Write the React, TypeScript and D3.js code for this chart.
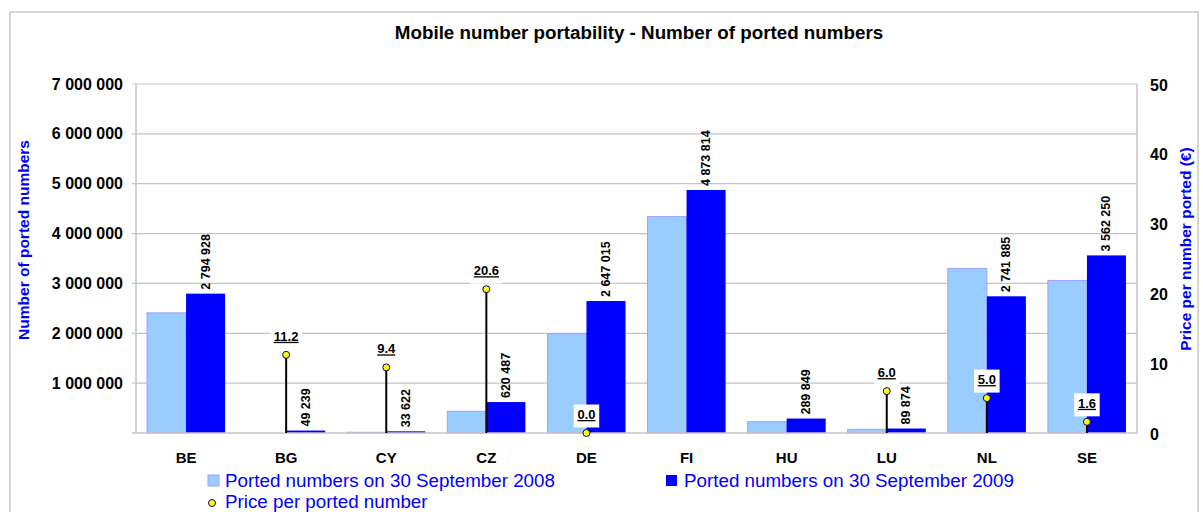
import React from "react";
import * as d3 from "d3";

const categories = ["BE", "BG", "CY", "CZ", "DE", "FI", "HU", "LU", "NL", "SE"];
const ported2008 = [2410000, 0, 15000, 435000, 1990000, 4340000, 227000, 74000, 3300000, 3060000];
const ported2009 = [2794928, 49239, 33622, 620487, 2647015, 4873814, 289849, 89874, 2741885, 3562250];
const price: (number | null)[] = [null, 11.2, 9.4, 20.6, 0.0, null, null, 6.0, 5.0, 1.6];
const leftTicks = [1000000, 2000000, 3000000, 4000000, 5000000, 6000000, 7000000];
const rightTicks = [0, 10, 20, 30, 40, 50];

const title = "Mobile number portability - Number of ported numbers";
const leftTitle = "Number of ported numbers";
const rightTitle = "Price per number ported (€)";
const legend2008 = "Ported numbers on 30 September 2008";
const legend2009 = "Ported numbers on 30 September 2009";
const legendPrice = "Price per ported number";

const W = 1203;
const H = 512;
const plot = { left: 136, right: 1137, top: 84, bottom: 433 };
const FONT = "'Liberation Sans', Arial, sans-serif";
const LIGHT = "#99ccff";
const LIGHT_STROKE = "#a0a0ff";
const DARK = "#0000ff";
const GRID = "#c4c4c4";

const fmtNum = (v: number) => d3.format(",")(v).replace(/,/g, " ");
const fmtPrice = d3.format(".1f");

export default function App() {
  const x = d3.scaleBand<string>().domain(categories).range([plot.left, plot.right]).paddingInner(0).paddingOuter(0);
  const bw = x.bandwidth();
  const yL = d3.scaleLinear().domain([0, 7000000]).range([plot.bottom, plot.top]);
  const yR = d3.scaleLinear().domain([0, 50]).range([plot.bottom, plot.top]);
  const barW = bw * 0.39;
  const off1 = bw * 0.11;
  const off2 = off1 + barW;

  return (
    <svg width={W} height={H} style={{ position: "absolute", left: 0, top: 0 }} fontFamily={FONT}>
      <rect x={0} y={0} width={W} height={H} fill="#fff" />
      <rect x={10} y={12} width={1188} height={H + 20} fill="#fff" stroke="#c8c8c8" strokeWidth={1.5} />
      <text x={639} y={39} textAnchor="middle" fontSize={18.8} fontWeight="bold" fill="#000">{title}</text>

      {/* gridlines */}
      {leftTicks.map((t) => (
        <line key={"g" + t} x1={plot.left - 4} x2={plot.right} y1={yL(t)} y2={yL(t)} stroke={GRID} strokeWidth={1.2} />
      ))}
      <line x1={plot.left} x2={plot.left} y1={plot.top} y2={plot.bottom} stroke={GRID} strokeWidth={1.5} />
      <line x1={plot.right} x2={plot.right} y1={plot.top} y2={plot.bottom} stroke={GRID} strokeWidth={1.5} />

      {/* bars */}
      {categories.map((c, i) => {
        const x0 = x(c)!;
        return (
          <g key={"b" + c}>
            <rect x={x0 + off1} y={yL(ported2008[i])} width={barW} height={plot.bottom - yL(ported2008[i])} fill={LIGHT} stroke={LIGHT_STROKE} strokeWidth={1} />
            <rect x={x0 + off2} y={yL(ported2009[i])} width={barW} height={plot.bottom - yL(ported2009[i])} fill={DARK} />
          </g>
        );
      })}
      <line x1={plot.left - 4} x2={plot.right} y1={plot.bottom} y2={plot.bottom} stroke={GRID} strokeWidth={1.5} />

      {/* bar labels */}
      {categories.map((c, i) => {
        const cx = x(c)! + off2 + barW / 2;
        const ty = yL(ported2009[i]) - 4;
        return (
          <text key={"bl" + c} transform={`translate(${cx},${ty}) rotate(-90)`} textAnchor="start" dominantBaseline="central" fontSize={12.5} fontWeight="bold" fill="#000">
            {fmtNum(ported2009[i])}
          </text>
        );
      })}

      {/* price stems & markers */}
      {categories.map((c, i) => {
        const p = price[i];
        if (p === null) return null;
        const cx = x(c)! + off2;
        const cy = yR(p);
        return (
          <g key={"p" + c}>
            <line x1={cx} x2={cx} y1={cy} y2={plot.bottom} stroke="#000" strokeWidth={2} />
            <circle cx={cx} cy={cy} r={3.5} fill="#ffff00" stroke="#000080" strokeWidth={1} />
          </g>
        );
      })}
      {categories.map((c, i) => {
        const p = price[i];
        if (p === null) return null;
        const cx = x(c)! + off2;
        const cy = yR(p);
        const label = fmtPrice(p);
        const tw = label.length * 13 * 0.5 + 2;
        const base = Math.min(cy - 14, plot.bottom - 5);
        const top = base - 14.5;
        const h = Math.min(23, plot.bottom - top);
        return (
          <g key={"pl" + c}>
            <rect x={cx - tw / 2 - 2} y={top} width={tw + 4} height={h} fill="#fff" />
            <text x={cx} y={base} textAnchor="middle" fontSize={13} fontWeight="bold" fill="#000" textDecoration="underline">
              {label}
            </text>
          </g>
        );
      })}

      {/* left axis labels */}
      {leftTicks.map((t) => (
        <text key={"lt" + t} x={123} y={yL(t)} textAnchor="end" dominantBaseline="central" fontSize={16} fontWeight="bold" fill="#000">
          {fmtNum(t)}
        </text>
      ))}
      {/* right axis labels */}
      {rightTicks.map((t) => (
        <text key={"rt" + t} x={1150} y={yR(t) + 1} textAnchor="start" dominantBaseline="central" fontSize={16} fontWeight="bold" fill="#000">
          {t}
        </text>
      ))}
      <text transform={`translate(23,240) rotate(-90)`} textAnchor="middle" dominantBaseline="central" fontSize={15.5} fontWeight="bold" fill={DARK}>
        {leftTitle}
      </text>
      <text transform={`translate(1185,249) rotate(-90)`} textAnchor="middle" dominantBaseline="central" fontSize={15.5} fontWeight="bold" fill={DARK}>
        {rightTitle}
      </text>

      {/* category labels */}
      {categories.map((c) => (
        <text key={"c" + c} x={x(c)! + bw / 2} y={463} textAnchor="middle" fontSize={15} fontWeight="bold" fill="#000">
          {c}
        </text>
      ))}

      {/* legend */}
      <rect x={208} y={475} width={11} height={11} fill={LIGHT} stroke={LIGHT_STROKE} strokeWidth={1} />
      <text x={225} y={487} fontSize={18.8} fill={DARK}>{legend2008}</text>
      <rect x={666} y={475} width={11} height={11} fill={DARK} />
      <text x={684} y={487} fontSize={18.8} fill={DARK}>{legend2009}</text>
      <circle cx={212} cy={503} r={3.5} fill="#ffff00" stroke="#000080" strokeWidth={1} />
      <text x={225} y={508} fontSize={18.8} fill={DARK}>{legendPrice}</text>
    </svg>
  );
}
